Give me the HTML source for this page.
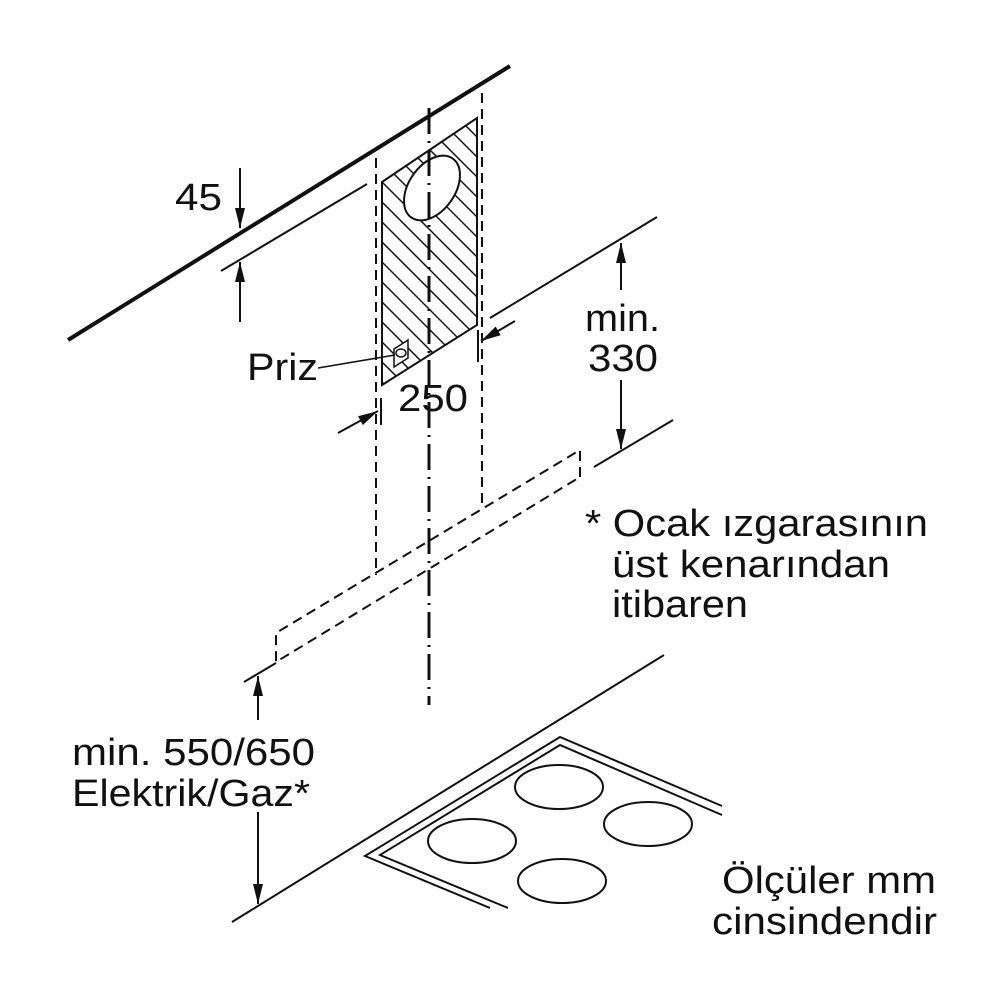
<!DOCTYPE html>
<html><head><meta charset="utf-8"><style>body{margin:0;background:#fff}svg{display:block}text{font-family:"Liberation Sans",sans-serif;font-size:38px;fill:#111}</style></head>
<body>
<svg width="1000" height="1000" viewBox="0 0 1000 1000" xmlns="http://www.w3.org/2000/svg">
<defs>
<marker id="a" viewBox="0 0 20 10" refX="20" refY="5" markerWidth="20" markerHeight="10" markerUnits="userSpaceOnUse" orient="auto"><path d="M0,0 L20,5 L0,10 z" fill="#111"/></marker>
<clipPath id="hc"><polygon points="382,182 477,118 477,325 382,385"/></clipPath>
</defs>
<g stroke="#111" fill="none" stroke-width="2">
<line x1="68" y1="340" x2="510" y2="66" stroke-width="4"/>
<line x1="221" y1="271" x2="367" y2="184"/>
<line x1="240" y1="168" x2="240" y2="228" marker-end="url(#a)"/>
<line x1="240" y1="322" x2="240" y2="262" marker-end="url(#a)"/>
<g clip-path="url(#hc)" stroke-width="1.5">
<path d="M300,-80 l240,240 M300,-60 l240,240 M300,-40 l240,240 M300,-20 l240,240 M300,0 l240,240 M300,20 l240,240 M300,40 l240,240 M300,60 l240,240 M300,80 l240,240 M300,100 l240,240 M300,120 l240,240 M300,140 l240,240 M300,160 l240,240 M300,180 l240,240 M300,200 l240,240 M300,220 l240,240 M300,240 l240,240 M300,260 l240,240 M300,280 l240,240 M300,300 l240,240"/>
</g>
<polygon points="382,182 477,118 477,325 382,385"/>
<ellipse cx="432" cy="188" rx="23" ry="36" transform="rotate(35 432 188)" fill="#fff"/>
<g stroke-width="1.5"><polygon points="394,349 408,340 408,358 394,367" fill="#fff"/><ellipse cx="401" cy="353" rx="5" ry="4"/></g>
<line x1="318" y1="368" x2="395" y2="355" stroke-width="1.5"/>
<line x1="376" y1="158" x2="376" y2="575" stroke-dasharray="10,6"/>
<line x1="482" y1="93" x2="482" y2="505" stroke-dasharray="10,6"/>
<line x1="429" y1="108" x2="429" y2="705" stroke-width="3" stroke-dasharray="26,7,2,7"/>
<line x1="381" y1="398" x2="381" y2="425"/>
<line x1="478" y1="330" x2="478" y2="362"/>
<line x1="338" y1="433" x2="378" y2="411" marker-end="url(#a)"/>
<line x1="515" y1="321" x2="481" y2="341" marker-end="url(#a)"/>
<line x1="490" y1="318" x2="657" y2="217"/>
<line x1="594" y1="467" x2="673" y2="420"/>
<line x1="621" y1="290" x2="621" y2="243" marker-end="url(#a)"/>
<line x1="621" y1="380" x2="621" y2="449" marker-end="url(#a)"/>
<g stroke-dasharray="10,6">
<polyline points="580,477 580,450 276,633 276,662 580,477"/>
</g>
<line x1="244" y1="682" x2="276" y2="663"/>
<line x1="258" y1="720" x2="258" y2="676" marker-end="url(#a)"/>
<line x1="258" y1="812" x2="258" y2="904" marker-end="url(#a)"/>
<line x1="232" y1="922" x2="664" y2="655"/>
<polyline points="490,908 365,856 560,737 722,806"/>
<polyline points="508,908 380,855 560,745 722,815"/>
<ellipse cx="559" cy="787" rx="44" ry="22"/>
<ellipse cx="472" cy="841" rx="44" ry="22"/>
<ellipse cx="648" cy="824" rx="44" ry="22"/>
<ellipse cx="562" cy="881" rx="44" ry="22"/>
</g>
<text x="175" y="210" textLength="47" lengthAdjust="spacingAndGlyphs">45</text>
<text x="247" y="380" textLength="71" lengthAdjust="spacingAndGlyphs">Priz</text>
<text x="398" y="411" textLength="70" lengthAdjust="spacingAndGlyphs">250</text>
<text x="585" y="331" textLength="75" lengthAdjust="spacingAndGlyphs">min.</text>
<text x="588" y="371" textLength="70" lengthAdjust="spacingAndGlyphs">330</text>
<text x="585" y="536" textLength="343" lengthAdjust="spacingAndGlyphs">* Ocak ızgarasının</text>
<text x="612" y="577" textLength="278" lengthAdjust="spacingAndGlyphs">üst kenarından</text>
<text x="612" y="617" textLength="136" lengthAdjust="spacingAndGlyphs">itibaren</text>
<text x="72" y="765" textLength="243" lengthAdjust="spacingAndGlyphs">min. 550/650</text>
<text x="72" y="806" textLength="238" lengthAdjust="spacingAndGlyphs">Elektrik/Gaz*</text>
<text x="722" y="893" textLength="214" lengthAdjust="spacingAndGlyphs">Ölçüler mm</text>
<text x="712" y="934" textLength="225" lengthAdjust="spacingAndGlyphs">cinsindendir</text>
</svg>
</body></html>
